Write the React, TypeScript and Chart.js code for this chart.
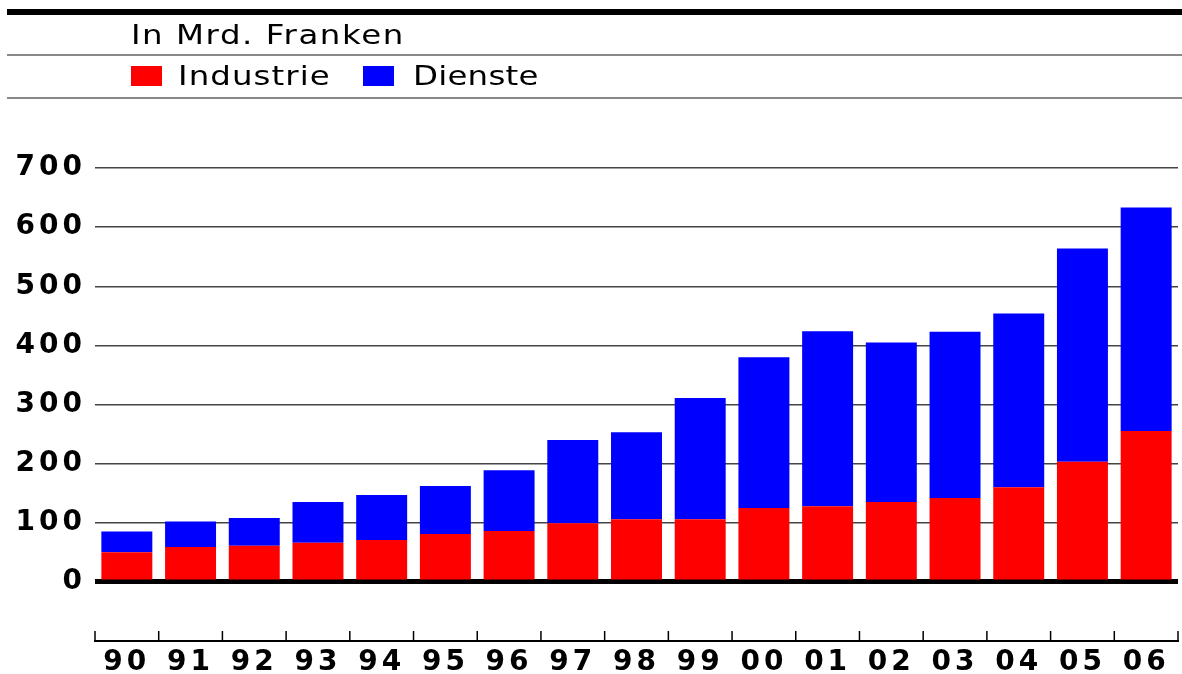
import React, { useEffect, useRef } from 'react';
import { Chart, registerables } from 'chart.js';

Chart.register(...registerables);

const years = ['90', '91', '92', '93', '94', '95', '96', '97', '98', '99', '00', '01', '02', '03', '04', '05', '06'];
const industrie = [50, 59, 61, 66, 71, 81, 86, 99, 106, 106, 125, 128, 135, 142, 160, 203, 255];
const dienste = [35, 43, 47, 69, 76, 81, 103, 141, 147, 205, 255, 296, 270, 281, 294, 361, 378];
const yTicks = [0, 100, 200, 300, 400, 500, 600, 700];

const unitLabel = 'In Mrd. Franken';
const seriesNames = ['Industrie', 'Dienste'];
const seriesColors = ['#ff0000', '#0000ff'];

const FONT = '"DejaVu Sans", Verdana, sans-serif';

const spacingPlugin = {
  id: 'spacing',
  beforeLayout(chart: any) {
    chart.ctx.letterSpacing = '4px';
  },
  beforeDraw(chart: any) {
    chart.ctx.letterSpacing = '4px';
  },
};

const tickPlugin = {
  id: 'upTicks',
  afterDraw(chart: any) {
    const x = chart.scales.x;
    const area = chart.chartArea;
    const ctx = chart.ctx;
    ctx.save();
    ctx.strokeStyle = '#000';
    ctx.lineWidth = 1.5;
    for (let i = 0; i <= years.length; i++) {
      const px = x.getPixelForValue(i - 0.5);
      ctx.beginPath();
      ctx.moveTo(px, area.bottom - 10);
      ctx.lineTo(px, area.bottom);
      ctx.stroke();
    }
    ctx.restore();
  },
};

export default function App() {
  const ref = useRef<HTMLCanvasElement>(null);

  useEffect(() => {
    if (!ref.current) return;
    const chart = new Chart(ref.current, {
      type: 'bar',
      data: {
        labels: years,
        datasets: [
          { label: seriesNames[0], data: industrie, backgroundColor: seriesColors[0], borderWidth: 0 },
          { label: seriesNames[1], data: dienste, backgroundColor: seriesColors[1], borderWidth: 0 },
        ],
      },
      options: {
        responsive: false,
        animation: false,
        layout: { padding: { top: 168, right: 4, bottom: 0, left: 0 } },
        plugins: {
          legend: { display: false },
          title: { display: false },
          tooltip: { enabled: false },
        },
        datasets: { bar: { categoryPercentage: 0.8, barPercentage: 1 } },
        scales: {
          x: {
            stacked: true,
            offset: true,
            grid: { drawOnChartArea: false, drawTicks: false, offset: true },
            border: { display: true, color: '#000', width: 2 },
            ticks: {
              color: '#000',
              font: { family: FONT, size: 28, weight: 'bold' },
              padding: 5,
              maxRotation: 0,
              autoSkip: false,
            },
            afterFit(scale: any) {
              scale.height = 33;
            },
          },
          y: {
            stacked: true,
            min: -100,
            max: 700,
            afterBuildTicks(scale: any) {
              scale.ticks = [{ value: -100 }, ...yTicks.map((v) => ({ value: v }))];
            },
            grid: {
              drawTicks: false,
              color: (c: any) => (c.tick && c.tick.value === 0 ? '#000' : c.tick && c.tick.value < 0 ? 'rgba(0,0,0,0)' : '#444'),
              lineWidth: (c: any) => (c.tick && c.tick.value === 0 ? 5 : 1.5),
            },
            border: { display: false },
            ticks: {
              color: '#000',
              font: { family: FONT, size: 28, weight: 'bold' },
              padding: 9,
              callback: (v: any) => (v < 0 ? '' : String(v)),
            },
            afterFit(scale: any) {
              scale.width = 95;
            },
          },
        },
      },
      plugins: [spacingPlugin, tickPlugin],
    });
    return () => chart.destroy();
  }, []);

  const textStyle: React.CSSProperties = {
    position: 'absolute',
    fontFamily: FONT,
    fontSize: 27,
    lineHeight: '27px',
    letterSpacing: '0.9px',
    color: '#000',
    whiteSpace: 'nowrap',
    transform: 'scaleX(1.2)',
    transformOrigin: '0 0',
  };

  return (
    <div style={{ position: 'absolute', left: 0, top: 0, width: 1182, height: 674, background: '#fff', overflow: 'hidden' }}>
      <canvas ref={ref} width={1182} height={674} style={{ position: 'absolute', left: 0, top: 0 }} />
      <div style={{ position: 'absolute', left: 7, top: 8.5, width: 1175, height: 6.5, background: '#000' }} />
      <div style={{ ...textStyle, left: 131, top: 21, letterSpacing: '1.3px' }}>{unitLabel}</div>
      <div style={{ position: 'absolute', left: 7, top: 53.5, width: 1175, height: 2, background: '#888' }} />
      <div style={{ position: 'absolute', left: 131, top: 66, width: 31, height: 20, background: seriesColors[0] }} />
      <div style={{ ...textStyle, left: 178, top: 62 }}>{seriesNames[0]}</div>
      <div style={{ position: 'absolute', left: 363, top: 65.5, width: 31, height: 20, background: seriesColors[1] }} />
      <div style={{ ...textStyle, left: 413, top: 62, letterSpacing: '0.2px' }}>{seriesNames[1]}</div>
      <div style={{ position: 'absolute', left: 7, top: 96.5, width: 1175, height: 2, background: '#888' }} />
    </div>
  );
}
